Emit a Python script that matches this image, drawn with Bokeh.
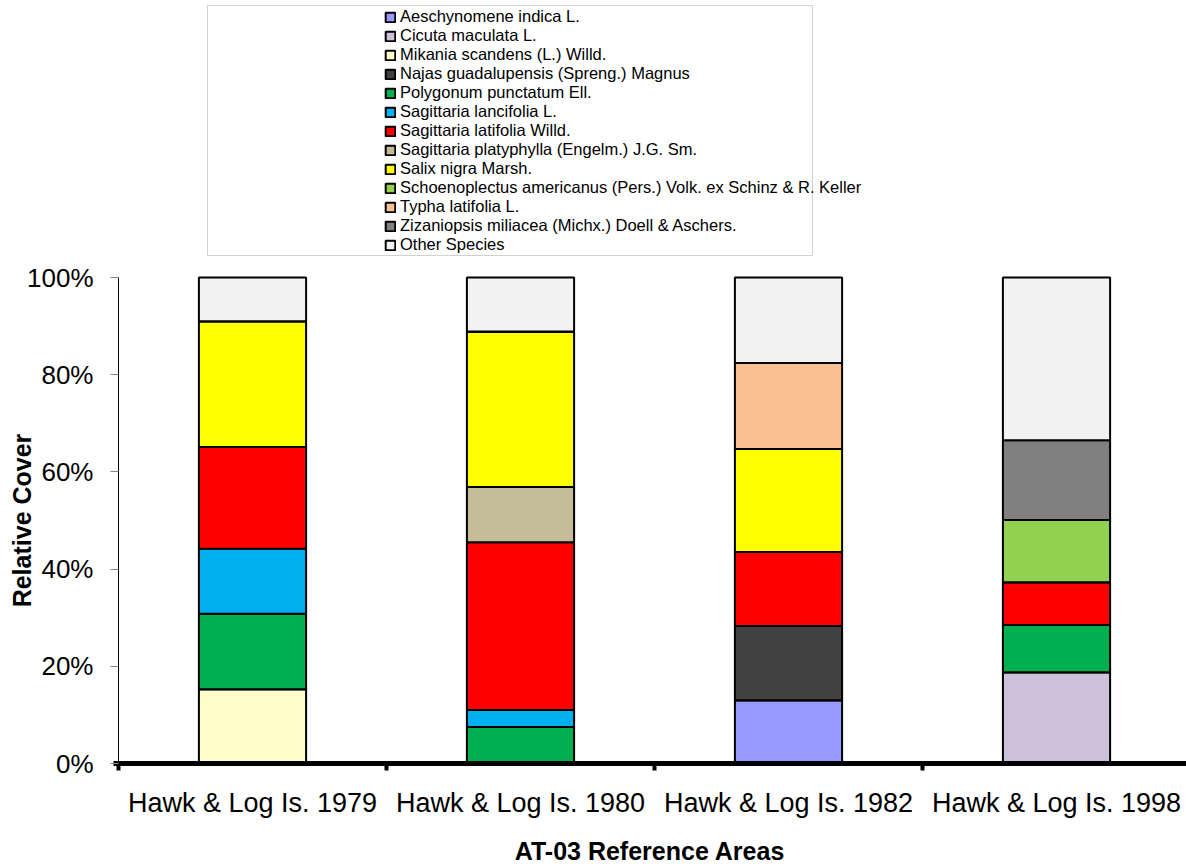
from bokeh.plotting import figure
from bokeh.models import (ColumnDataSource, Range1d, FixedTicker, PrintfTickFormatter,
                          Legend, LegendItem, BoxAnnotation)
from bokeh.embed import file_html
from bokeh.resources import INLINE

# ---------------- data ----------------
categories = ["Hawk & Log Is. 1979", "Hawk & Log Is. 1980",
              "Hawk & Log Is. 1982", "Hawk & Log Is. 1998"]

species = [
    "Aeschynomene indica L.",
    "Cicuta maculata L.",
    "Mikania scandens (L.) Willd.",
    "Najas guadalupensis (Spreng.) Magnus",
    "Polygonum punctatum Ell.",
    "Sagittaria lancifolia L.",
    "Sagittaria latifolia Willd.",
    "Sagittaria platyphylla (Engelm.) J.G. Sm.",
    "Salix nigra Marsh.",
    "Schoenoplectus americanus (Pers.) Volk. ex Schinz & R. Keller",
    "Typha latifolia L.",
    "Zizaniopsis miliacea (Michx.) Doell & Aschers.",
    "Other Species",
]

colors = ["#9999FF", "#CCC0DA", "#FFFFCC", "#404040", "#00B050", "#00B0F0",
          "#FF0000", "#C4BD97", "#FFFF00", "#92D050", "#FAC090", "#808080", "#F2F2F2"]

# relative cover (%) per site, bottom-to-top stacking order
aeschynomene = [0, 0, 13.0, 0]
cicuta = [0, 0, 0, 18.8]
mikania = [15.3, 0, 0, 0]
najas = [0, 0, 15.3, 0]
polygonum = [15.5, 7.5, 0, 9.7]
s_lancifolia = [13.4, 3.5, 0, 0]
s_latifolia = [20.9, 34.5, 15.2, 8.8]
s_platyphylla = [0, 11.4, 0, 0]
salix = [25.9, 32.0, 21.2, 0]
schoenoplectus = [0, 0, 0, 12.8]
typha = [0, 0, 17.7, 0]
zizaniopsis = [0, 0, 0, 16.4]
other = [9.0, 11.1, 17.6, 33.5]

y_ticks = [0, 20, 40, 60, 80, 100]

series = [aeschynomene, cicuta, mikania, najas, polygonum, s_lancifolia, s_latifolia,
          s_platyphylla, salix, schoenoplectus, typha, zizaniopsis, other]

# ---------------- build ----------------
keys = ["s%d" % i for i in range(len(species))]
xs = [i + 0.5 for i in range(len(categories))]
data = {"x": xs}
for k, vals in zip(keys, series):
    data[k] = vals
source = ColumnDataSource(data)

FONT = "Liberation Sans"
W, H = 1186, 866
PX_X = 268.0          # pixels per category
PX_Y = 4.86           # pixels per percent
X0, Y0 = 118, 763     # canvas position of the axes origin

p = figure(width=W, height=H, output_backend="svg", toolbar_location=None,
           x_range=Range1d(-X0 / PX_X, (W - X0) / PX_X),
           y_range=Range1d(-(H - Y0) / PX_Y, Y0 / PX_Y),
           min_border=0)
p.outline_line_color = None
p.xgrid.visible = False
p.ygrid.visible = False

renderers = p.vbar_stack(keys, x="x", width=0.4, source=source,
                         fill_color=colors, line_color="black", line_width=2)

# y axis
ya = p.yaxis[0]
ya.fixed_location = 0
ya.bounds = (0, 100)
ya.ticker = FixedTicker(ticks=y_ticks, minor_ticks=[])
ya.formatter = PrintfTickFormatter(format="%d%%")
ya.axis_line_color = "black"
ya.axis_line_width = 1
ya.major_tick_line_color = "#868686"
ya.major_tick_out = 8
ya.major_tick_in = 0
ya.minor_tick_line_color = None
ya.major_label_text_font = FONT
ya.major_label_text_font_size = "26px"
ya.major_label_text_color = "black"
ya.major_label_standoff = 17
ya.axis_label = "Relative Cover"
ya.axis_label_text_font = FONT
ya.axis_label_text_font_size = "25px"
ya.axis_label_text_font_style = "bold"
ya.axis_label_text_color = "black"
ya.axis_label_standoff = -12

# x axis
xa = p.xaxis[0]
xa.fixed_location = 0
xa.bounds = (-0.02, (W - X0) / PX_X)
xa.ticker = FixedTicker(ticks=xs, minor_ticks=list(range(len(categories))))
xa.major_label_overrides = {x: c for x, c in zip(xs, categories)}
xa.axis_line_color = "black"
xa.axis_line_width = 5
xa.major_tick_line_color = None
xa.major_tick_out = 0
xa.major_tick_in = 0
xa.minor_tick_line_color = "black"
xa.minor_tick_line_width = 4
xa.minor_tick_out = 7
xa.minor_tick_in = 0
xa.major_label_text_font = FONT
xa.major_label_text_font_size = "27px"
xa.major_label_text_color = "black"
xa.major_label_standoff = 17
xa.axis_label = "AT-03 Reference Areas"
xa.axis_label_text_font = FONT
xa.axis_label_text_font_size = "25px"
xa.axis_label_text_font_style = "bold"
xa.axis_label_text_color = "black"
xa.axis_label_standoff = 16

# legend
items = [LegendItem(label=name, renderers=[r]) for name, r in zip(species, renderers)]
legend = Legend(items=items, location=(384, H - 7 - 247), orientation="vertical",
                padding=0, margin=0, spacing=0,
                glyph_width=12, glyph_height=12, label_height=19, label_standoff=4,
                label_text_font=FONT, label_text_font_size="16.5px",
                label_text_color="black",
                border_line_color=None, background_fill_alpha=0)
p.add_layout(legend, "center")

box = BoxAnnotation(left=207, right=812, top=5, bottom=255,
                    left_units="canvas", right_units="canvas",
                    top_units="canvas", bottom_units="canvas",
                    fill_alpha=0, line_color="#666666", line_width=1)
p.add_layout(box)

open("out.html", "w").write(file_html(p, INLINE))
